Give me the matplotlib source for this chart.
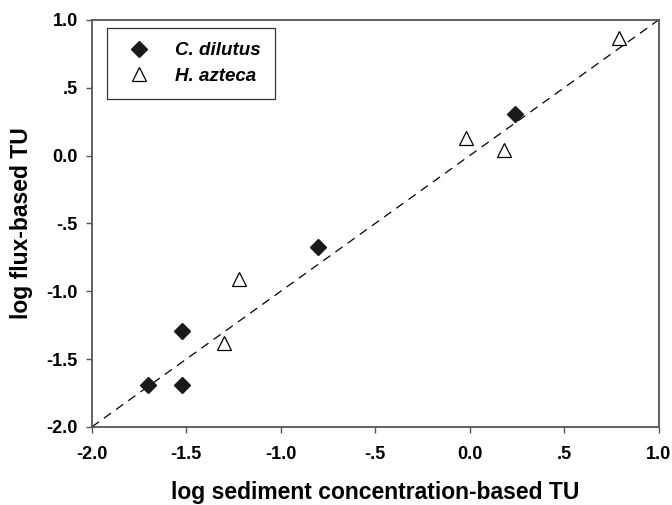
import matplotlib

matplotlib.use("Agg")
import matplotlib.pyplot as plt
import numpy as np

# C. dilutus (filled diamonds)
dilutus_x = [-1.70, -1.52, -1.52, -0.80, 0.24]
dilutus_y = [-1.69, -1.69, -1.29, -0.67, 0.31]
# H. azteca (open triangles)
azteca_x = [-1.30, -1.22, -0.02, 0.18, 0.79]
azteca_y = [-1.38, -0.91, 0.13, 0.04, 0.87]

ticks = [-2.0, -1.5, -1.0, -0.5, 0.0, 0.5, 1.0]
tick_labels = ["-2.0", "-1.5", "-1.0", "-.5", "0.0", ".5", "1.0"]

plt.rcParams["font.family"] = ["Liberation Sans", "DejaVu Sans"]

fig = plt.figure(figsize=(6.72, 5.05), dpi=100)
ax = fig.add_axes([0.1365, 0.1545, 0.8435, 0.806])

ax.plot([-2.0, 1.0], [-2.0, 1.0], linestyle=(0, (7, 5)), color="black", linewidth=0.9)
ax.plot(dilutus_x, dilutus_y, linestyle="none", marker="D", markersize=8.5,
        color="#1a1a1a", label="C. dilutus")
ax.plot(azteca_x, azteca_y, linestyle="none", marker="^", markersize=9.5,
        markerfacecolor="white", markeredgecolor="black", markeredgewidth=0.9,
        label="H. azteca")

ax.set_xlim(-2.0, 1.0)
ax.set_ylim(-2.0, 1.0)
ax.set_xticks(ticks, tick_labels)
ax.set_yticks(ticks, tick_labels)
ax.tick_params(direction="out", length=4, width=1.0, color="#555555",
               labelsize=13, pad=6)
ax.tick_params(axis="x", pad=10)
for label in ax.get_xticklabels() + ax.get_yticklabels():
    label.set_fontweight("bold")
for spine in ax.spines.values():
    spine.set_color("#555555")
    spine.set_linewidth(1.3)

ax.set_xlabel("log sediment concentration-based TU", fontsize=16.5,
              fontweight="bold", labelpad=13)
ax.set_ylabel("log flux-based TU", fontsize=16.5, fontweight="bold", labelpad=10)

legend = ax.legend(loc="upper left", bbox_to_anchor=(0.027, 0.98), frameon=True,
                   fancybox=False, edgecolor="black", handletextpad=1.0,
                   borderpad=0.75, labelspacing=0.45, borderaxespad=0,
                   handlelength=1.9,
                   prop={"size": 13.5, "weight": "bold", "style": "italic"})
legend.get_frame().set_linewidth(0.9)

fig.savefig("out.png", dpi=100, facecolor="white")
